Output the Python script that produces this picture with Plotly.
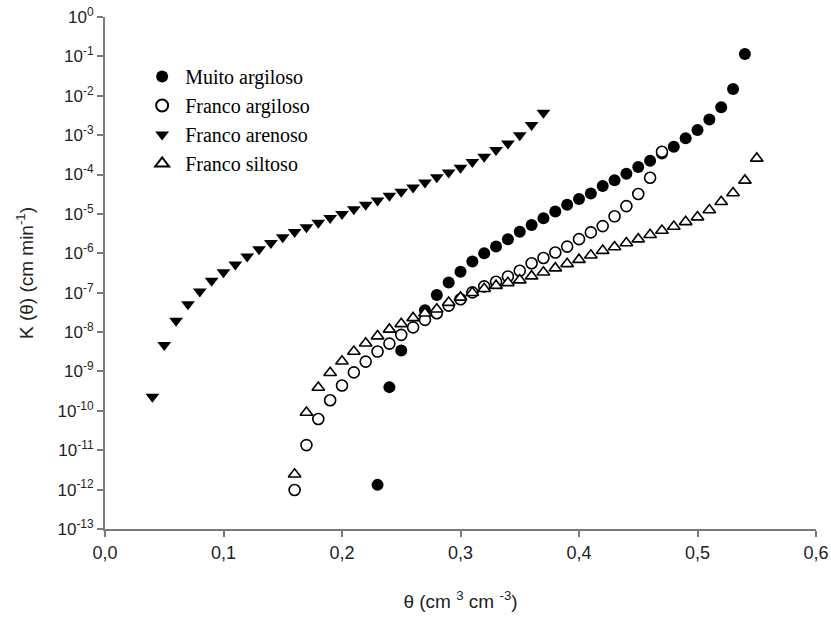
import plotly.graph_objects as go

# ---- data (theta in cm3 cm-3, K in cm min-1) ----
muito_theta = [0.23, 0.24, 0.25, 0.27, 0.28, 0.29, 0.30, 0.31, 0.32, 0.33, 0.34, 0.35,
               0.36, 0.37, 0.38, 0.39, 0.40, 0.41, 0.42, 0.43, 0.44, 0.45, 0.46, 0.47,
               0.48, 0.49, 0.50, 0.51, 0.52, 0.53, 0.54]
muito_K = [1.32e-12, 4.0e-10, 3.4e-9, 3.6e-8, 8.7e-8, 1.82e-7, 3.4e-7, 6.2e-7, 1.0e-6,
           1.48e-6, 2.29e-6, 3.55e-6, 5.2e-6, 7.8e-6, 1.15e-5, 1.7e-5, 2.4e-5, 3.3e-5,
           5.1e-5, 7.2e-5, 1.05e-4, 1.55e-4, 2.24e-4, 3.4e-4, 5.1e-4, 8.3e-4, 1.35e-3,
           2.5e-3, 5.1e-3, 1.48e-2, 1.15e-1]

fargil_theta = [0.16, 0.17, 0.18, 0.19, 0.20, 0.21, 0.22, 0.23, 0.24, 0.25, 0.26, 0.27,
                0.28, 0.29, 0.30, 0.31, 0.32, 0.33, 0.34, 0.35, 0.36, 0.37, 0.38, 0.39,
                0.40, 0.41, 0.42, 0.43, 0.44, 0.45, 0.46, 0.47]
fargil_K = [9.8e-13, 1.35e-11, 6.2e-11, 1.86e-10, 4.4e-10, 9.5e-10, 1.78e-9, 3.2e-9,
            5.1e-9, 8.5e-9, 1.32e-8, 2.04e-8, 3.0e-8, 4.7e-8, 6.8e-8, 1.02e-7, 1.45e-7,
            1.9e-7, 2.57e-7, 3.6e-7, 5.6e-7, 7.6e-7, 1.05e-6, 1.48e-6, 2.29e-6, 3.4e-6,
            4.9e-6, 8.7e-6, 1.58e-5, 3.2e-5, 8.3e-5, 3.8e-4]

faren_theta = [0.04, 0.05, 0.06, 0.07, 0.08, 0.09, 0.10, 0.11, 0.12, 0.13, 0.14, 0.15,
               0.16, 0.17, 0.18, 0.19, 0.20, 0.21, 0.22, 0.23, 0.24, 0.25, 0.26, 0.27,
               0.28, 0.29, 0.30, 0.31, 0.32, 0.33, 0.34, 0.35, 0.36, 0.37]
faren_K = [2.29e-10, 4.68e-9, 1.95e-8, 5.1e-8, 1.07e-7, 2.0e-7, 3.3e-7, 5.2e-7, 8.3e-7,
           1.26e-6, 1.82e-6, 2.57e-6, 3.47e-6, 4.57e-6, 6.0e-6, 7.9e-6, 1.0e-5, 1.32e-5,
           1.7e-5, 2.19e-5, 2.88e-5, 3.63e-5, 4.68e-5, 6.3e-5, 8.5e-5, 1.12e-4, 1.48e-4,
           2.09e-4, 2.82e-4, 4.17e-4, 6.17e-4, 1.0e-3, 1.82e-3, 3.7e-3]

fsilt_theta = [0.16, 0.17, 0.18, 0.19, 0.20, 0.21, 0.22, 0.23, 0.24, 0.25, 0.26, 0.27,
               0.28, 0.29, 0.30, 0.31, 0.32, 0.33, 0.34, 0.35, 0.36, 0.37, 0.38, 0.39,
               0.40, 0.41, 0.42, 0.43, 0.44, 0.45, 0.46, 0.47, 0.48, 0.49, 0.50, 0.51,
               0.52, 0.53, 0.54, 0.55]
fsilt_K = [2.45e-12, 9.1e-11, 3.9e-10, 9.3e-10, 1.82e-9, 3.2e-9, 5.2e-9, 7.9e-9, 1.17e-8,
           1.62e-8, 2.29e-8, 3.0e-8, 3.8e-8, 5.6e-8, 7.6e-8, 1.0e-7, 1.26e-7, 1.51e-7,
           1.78e-7, 2.09e-7, 2.63e-7, 3.3e-7, 4.2e-7, 5.4e-7, 6.9e-7, 8.9e-7, 1.17e-6,
           1.45e-6, 1.82e-6, 2.29e-6, 2.95e-6, 3.8e-6, 4.8e-6, 6.3e-6, 8.3e-6, 1.26e-5,
           2.04e-5, 3.4e-5, 7.1e-5, 2.57e-4]

series_names = ["Muito argiloso", "Franco argiloso", "Franco arenoso", "Franco siltoso"]

x_tickvals = [0.0, 0.1, 0.2, 0.3, 0.4, 0.5, 0.6]
x_ticktext = ["0,0", "0,1", "0,2", "0,3", "0,4", "0,5", "0,6"]
y_exponents = [0, -1, -2, -3, -4, -5, -6, -7, -8, -9, -10, -11, -12, -13]

fig = go.Figure()
fig.add_trace(go.Scatter(x=muito_theta, y=muito_K, mode="markers", name=series_names[0],
                         marker=dict(symbol="circle", size=12, color="black",
                                     line=dict(width=0))))
fig.add_trace(go.Scatter(x=fargil_theta, y=fargil_K, mode="markers", name=series_names[1],
                         marker=dict(symbol="circle", size=11, color="white",
                                     line=dict(width=1.6, color="black"))))
fig.add_trace(go.Scatter(x=faren_theta, y=faren_K, mode="markers", name=series_names[2],
                         marker=dict(symbol="triangle-down", size=12, color="black",
                                     line=dict(width=0))))
fig.add_trace(go.Scatter(x=fsilt_theta, y=fsilt_K, mode="markers", name=series_names[3],
                         marker=dict(symbol="triangle-up", size=11, color="white",
                                     line=dict(width=1.6, color="black"))))

axis_color = "#7a7a7a"
fig.update_layout(
    template="none",
    width=831, height=617,
    margin=dict(l=105, r=15, t=17, b=88, autoexpand=False),
    paper_bgcolor="white", plot_bgcolor="white",
    font=dict(family="Liberation Sans, Arial", size=17, color="#222"),
    showlegend=True,
    legend=dict(x=0.048, y=0.922, xanchor="left", yanchor="top",
                bgcolor="rgba(0,0,0,0)", borderwidth=0, itemwidth=36,
                font=dict(family="Liberation Serif, Times New Roman", size=20, color="black"),
                tracegroupgap=0, itemsizing="constant"),
    xaxis=dict(range=[0, 0.6], tickvals=x_tickvals, ticktext=x_ticktext,
               automargin=False, ticklabeloverflow="allow",
               showgrid=False, zeroline=False, showline=True, linecolor=axis_color,
               linewidth=2, ticks="outside", ticklen=6, tickwidth=2, tickcolor=axis_color,
               tickfont=dict(size=18),
               title=dict(text="θ (cm <sup>3</sup> cm <sup>-3</sup>)",
                          font=dict(size=19), standoff=33)),
    yaxis=dict(type="log", range=[-13, 0],
               automargin=False, ticklabeloverflow="allow",
               tickvals=[10.0 ** e for e in y_exponents],
               ticktext=["10<sup>%d</sup>" % e for e in y_exponents],
               showgrid=False, zeroline=False, showline=True, linecolor=axis_color,
               linewidth=2, ticks="outside", ticklen=6, tickwidth=2, tickcolor=axis_color,
               tickfont=dict(size=17),
               title=dict(text="K (θ) (cm min<sup>-1</sup>)",
                          font=dict(size=19), standoff=19)),
)

fig.write_html("out.html",
               config={"displayModeBar": False},
               post_script="document.body.style.margin='0';document.body.style.overflow='hidden';")
